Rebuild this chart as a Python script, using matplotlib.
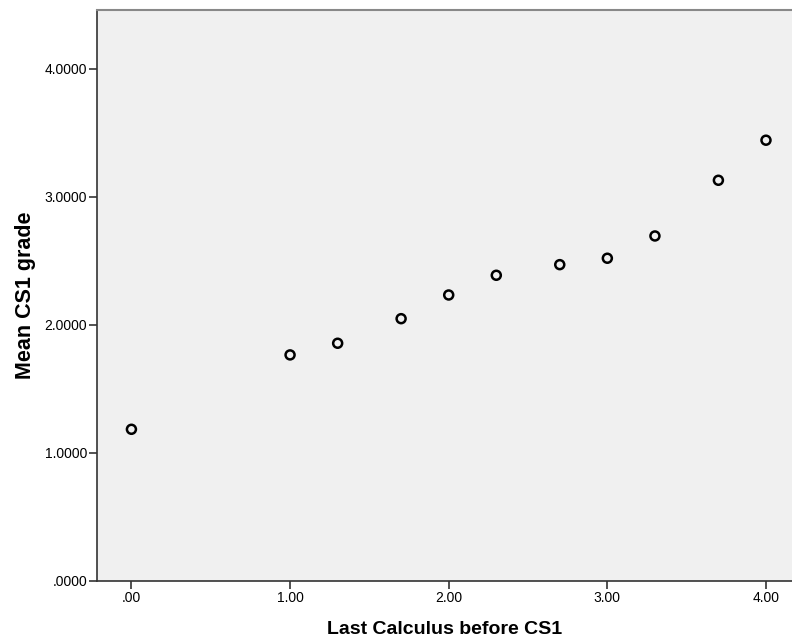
import matplotlib
matplotlib.use("Agg")
import matplotlib.pyplot as plt
from matplotlib.ticker import FuncFormatter

# Last calculus grade before CS1 vs mean CS1 grade
calc_grade = [0.0, 1.0, 1.3, 1.7, 2.0, 2.3, 2.7, 3.0, 3.3, 3.7, 4.0]
mean_cs1 = [1.185, 1.766, 1.857, 2.049, 2.234, 2.388, 2.471, 2.521, 2.695, 3.130, 3.443]

x_ticks = [0, 1, 2, 3, 4]
y_ticks = [0, 1, 2, 3, 4]

plt.rcParams["font.family"] = ["Liberation Sans", "DejaVu Sans"]

fig = plt.figure(figsize=(7.92, 6.39), dpi=100)
ax = fig.add_axes([97 / 792, 58 / 639, 695 / 792, 571 / 639])
ax.set_facecolor("#f0f0f0")

ax.scatter(calc_grade, mean_cs1, s=42, facecolors="none",
           edgecolors="black", linewidths=1.8, zorder=3)

ax.set_xlim(-0.217, 4.164)
ax.set_ylim(0, 4.46)
ax.set_xticks(x_ticks)
ax.set_yticks(y_ticks)


def strip_zero(v, digits):
    s = f"{v:.{digits}f}"
    return s[1:] if s.startswith("0") else s


ax.xaxis.set_major_formatter(FuncFormatter(lambda v, p: strip_zero(v, 2)))
ax.yaxis.set_major_formatter(FuncFormatter(lambda v, p: strip_zero(v, 4)))

for side in ("left", "bottom"):
    ax.spines[side].set_color("#333333")
    ax.spines[side].set_linewidth(1.2)
ax.spines["top"].set_color("#888888")
ax.spines["top"].set_linewidth(1.5)
ax.spines["right"].set_visible(False)

ax.tick_params(direction="out", length=6, width=1.2, color="#333333",
               labelsize=10, labelcolor="black", pad=1)

ax.set_xlabel("Last Calculus before CS1", fontsize=14, fontweight="bold", labelpad=12)
ax.set_ylabel("Mean CS1 grade", fontsize=15.5, fontweight="bold", labelpad=6)

fig.savefig("out.png", dpi=100)
